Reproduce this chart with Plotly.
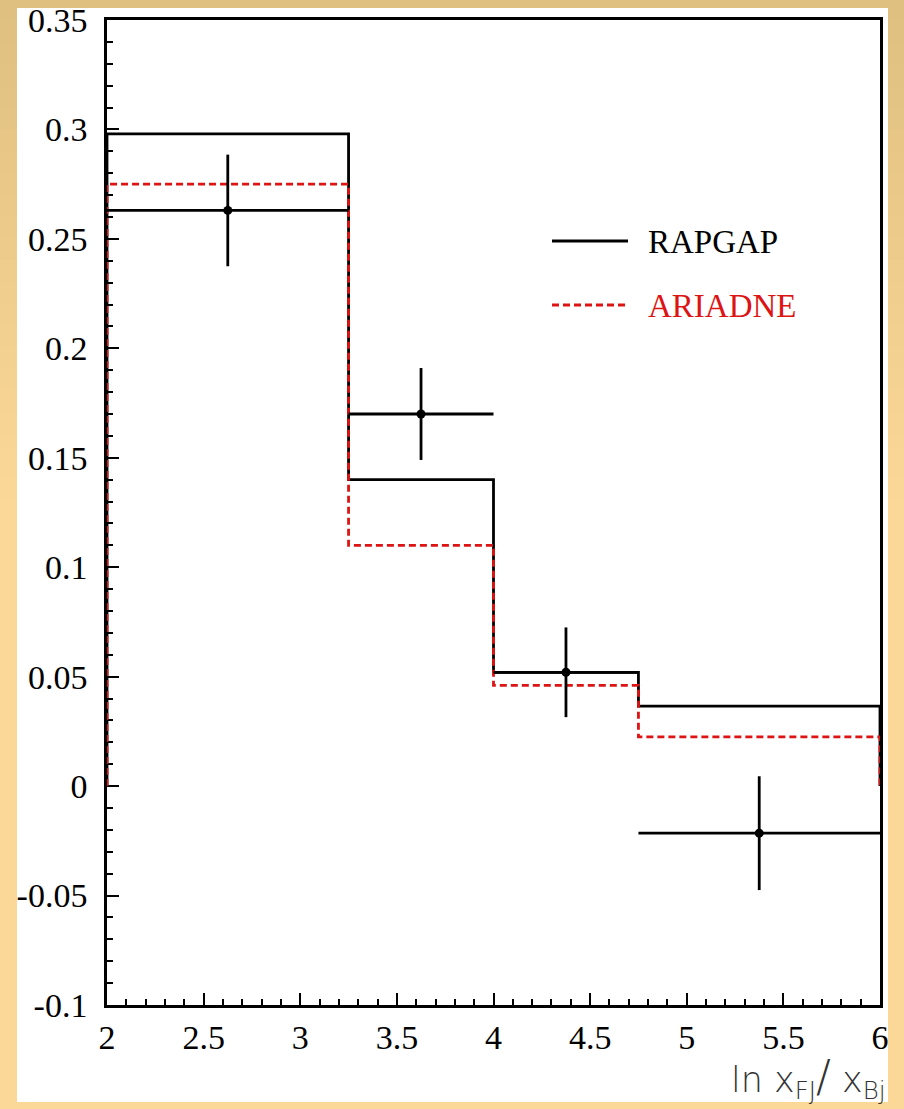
import plotly.graph_objects as go

# ---- data -------------------------------------------------------------
bin_edges = [2.0, 3.25, 4.0, 4.75, 6.0]
rapgap = [0.298, 0.140, 0.052, 0.0365]
ariadne = [0.275, 0.110, 0.046, 0.0225]

data_x = [2.625, 3.625, 4.375, 5.375]
data_y = [0.263, 0.170, 0.052, -0.0215]
data_err = [0.0255, 0.021, 0.0205, 0.026]

series_names = ["RAPGAP", "ARIADNE"]
ytick_vals = [-0.1, -0.05, 0, 0.05, 0.1, 0.15, 0.2, 0.25, 0.3, 0.35]
ytick_text = ["-0.1", "-0.05", "0", "0.05", "0.1", "0.15", "0.2", "0.25", "0.3", "0.35"]
xtick_vals = [2, 2.5, 3, 3.5, 4, 4.5, 5, 5.5, 6]
xtick_text = ["2", "2.5", "3", "3.5", "4", "4.5", "5", "5.5", "6"]

# ---- page geometry ----------------------------------------------------
W, H = 904, 1109
L, R, T, B = 107, 880, 20, 1005   # plot area in pixels


def px(x):
    return (x - L) / (R - L)


def py(y):
    return (B - y) / (B - T)


def step_outline(edges, vals):
    xs = [edges[0]] + list(edges[:-1]) + [edges[-1], edges[-1]]
    ys = [0] + list(vals) + [vals[-1], 0]
    return xs, ys


BLACK = "#000000"
RED = "#dd1414"
SERIF = "Liberation Serif, Times New Roman, serif"
LW = 2.8
DASH = "7px,4px"

fig = go.Figure()

hx, hy = step_outline(bin_edges, rapgap)
fig.add_trace(go.Scatter(x=hx, y=hy, mode="lines", line_shape="hv",
                         line=dict(color=BLACK, width=LW),
                         name=series_names[0], showlegend=False))

ax_, ay_ = step_outline(bin_edges, ariadne)
fig.add_trace(go.Scatter(x=ax_, y=ay_, mode="lines", line_shape="hv",
                         line=dict(color=RED, width=LW, dash=DASH),
                         name=series_names[1], showlegend=False))

half_w = [(bin_edges[i + 1] - bin_edges[i]) / 2 for i in range(len(data_x))]
fig.add_trace(go.Scatter(
    x=data_x, y=data_y, mode="markers",
    marker=dict(color=BLACK, size=9),
    error_y=dict(type="data", array=data_err, visible=True,
                 color=BLACK, thickness=2.8, width=0),
    error_x=dict(type="data", array=half_w, visible=True,
                 color=BLACK, thickness=2.8, width=0),
    showlegend=False, cliponaxis=False))

# ---- background frame -------------------------------------------------
shapes = []
top_col = (223, 192, 128)
low_col = (252, 216, 152)
n_bands = 24
band_end = 520
for i in range(n_bands):
    y0 = band_end * i / n_bands
    y1 = band_end * (i + 1) / n_bands + 1
    t = i / (n_bands - 1)
    c = tuple(round(top_col[k] + (low_col[k] - top_col[k]) * t) for k in range(3))
    shapes.append(dict(type="rect", xref="paper", yref="paper", layer="below",
                       x0=px(0), x1=px(W), y0=py(y1), y1=py(y0),
                       fillcolor="rgb(%d,%d,%d)" % c, line=dict(width=0)))
shapes.append(dict(type="rect", xref="paper", yref="paper", layer="below",
                   x0=px(17), x1=px(888), y0=py(1102), y1=py(8),
                   fillcolor="white", line=dict(width=0)))

# ---- legend -----------------------------------------------------------
leg_rows = [(241, BLACK, "solid"), (305, RED, DASH)]
annotations = []
for name, (yy, col, dash) in zip(series_names, leg_rows):
    shapes.append(dict(type="line", xref="paper", yref="paper",
                       x0=px(552), x1=px(628), y0=py(yy), y1=py(yy),
                       line=dict(color=col, width=LW, dash=dash)))
    annotations.append(dict(xref="paper", yref="paper", x=px(646), y=py(yy + 1),
                            xanchor="left", yanchor="middle", showarrow=False,
                            text=name, font=dict(family=SERIF, size=33, color=col)))

annotations.append(dict(
    xref="paper", yref="paper", x=px(888), y=py(1078),
    xanchor="right", yanchor="middle", showarrow=False,
    text="ln x<sub>FJ</sub><span style=\"font-size:44px\">/</span> x<sub>Bj</sub>",
    font=dict(family="DejaVu Sans", weight=200, size=35, color="#333333")))

axis_common = dict(showline=True, linecolor=BLACK, linewidth=2.6, mirror=True,
                   ticks="inside", tickcolor=BLACK, tickwidth=2.4, ticklen=12,
                   showgrid=False, zeroline=False, layer="below traces",
                   automargin=False,
                   tickfont=dict(family=SERIF, size=34, color=BLACK))

fig.update_xaxes(range=[2, 6], tickvals=xtick_vals, ticktext=xtick_text,
                 minor=dict(dtick=0.1, tick0=2, ticks="inside", ticklen=6,
                            tickwidth=2.4, tickcolor=BLACK),
                 ticklabelstandoff=0, **axis_common)
fig.update_yaxes(range=[-0.1, 0.35], tickvals=ytick_vals, ticktext=ytick_text,
                 minor=dict(dtick=0.01, tick0=0, ticks="inside", ticklen=6,
                            tickwidth=2.4, tickcolor=BLACK),
                 ticklabelstandoff=10, **axis_common)

fig.update_layout(
    width=W, height=H,
    margin=dict(l=L, r=W - R, t=T, b=H - B, pad=0),
    paper_bgcolor="rgb(252,216,152)",
    plot_bgcolor="white",
    shapes=shapes,
    annotations=annotations,
    showlegend=False,
)

fig.write_html("out.html")
